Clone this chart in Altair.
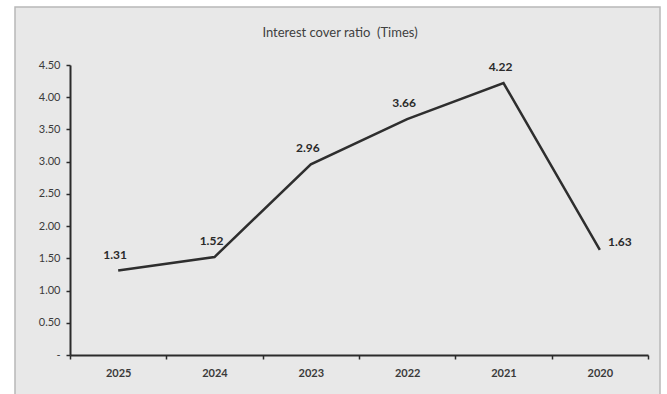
import altair as alt
import pandas as pd

years = ["2025", "2024", "2023", "2022", "2021", "2020"]
ratios = [1.31, 1.52, 2.96, 3.66, 4.22, 1.63]

df = pd.DataFrame({"year": years, "ratio": ratios})
df["label"] = [f"{v:.2f}" for v in ratios]

FONT = "Lato"

x_enc = alt.X(
    "year:N",
    sort=years,
    scale=alt.Scale(paddingInner=0, paddingOuter=0),
    axis=alt.Axis(
        title=None,
        labelAngle=0,
        labelFont=FONT,
        labelFontSize=11,
        labelFontWeight="bold",
        labelColor="#3a3a3a",
        labelPadding=8,
        domainColor="#2b2b2b",
        domainWidth=2,
        tickColor="#2b2b2b",
        tickWidth=1.5,
        tickSize=4,
        tickBand="extent",
        grid=False,
        zindex=1,
    ),
)
y_enc = alt.Y(
    "ratio:Q",
    scale=alt.Scale(domain=[0, 4.5], nice=False),
    axis=alt.Axis(
        title=None,
        values=[0, 0.5, 1, 1.5, 2, 2.5, 3, 3.5, 4, 4.5],
        labelExpr="datum.value == 0 ? '-' : format(datum.value, '.2f')",
        labelFont=FONT,
        labelFontSize=11,
        labelColor="#3a3a3a",
        labelPadding=6,
        domainColor="#2b2b2b",
        domainWidth=2,
        tickColor="#2b2b2b",
        tickWidth=1.5,
        tickSize=4,
        grid=False,
        zindex=1,
    ),
)

panel = alt.Chart(pd.DataFrame({"a": [1]})).mark_rect(
    fill="#e8e8e8", stroke="#b8b8b8", strokeWidth=1.5
).encode(
    x=alt.value(-55), x2=alt.value(590), y=alt.value(-58), y2=alt.value(345)
)

title = alt.Chart(pd.DataFrame({"t": ["Interest cover ratio\u00a0\u00a0(Times)"]})).mark_text(
    font=FONT, fontSize=13, color="#404040", align="center", baseline="middle"
).encode(x=alt.value(270), y=alt.value(-32), text="t:N")

line = alt.Chart(df).mark_line(color="#2e2e2e", strokeWidth=2.5).encode(x=x_enc, y=y_enc)

labels_main = alt.Chart(df).transform_filter(alt.datum.year != "2020").mark_text(
    font=FONT, fontSize=12, fontWeight="bold", color="#2a2a2a", dy=-16, dx=-3
).encode(x=x_enc, y=y_enc, text="label:N")

labels_last = alt.Chart(df).transform_filter(alt.datum.year == "2020").mark_text(
    font=FONT, fontSize=12, fontWeight="bold", color="#2a2a2a", dx=20, dy=-8
).encode(x=x_enc, y=y_enc, text="label:N")

chart = alt.layer(panel, title, line, labels_main, labels_last).properties(
    width=578,
    height=290,
    padding={"left": 70, "top": 65, "right": 19, "bottom": 39},
    autosize=alt.AutoSizeParams(type="none"),
    background="white",
).configure_view(stroke=None)

chart.save("out.html", embed_options={"renderer": "svg", "actions": False})
